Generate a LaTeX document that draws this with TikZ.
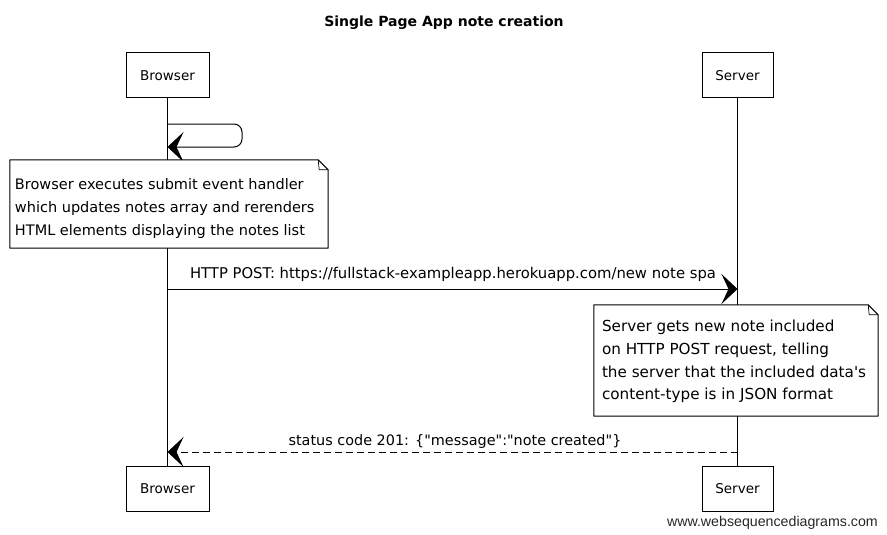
\documentclass[tikz,border=0pt]{standalone}
\usepackage{fontspec}
\setmainfont{DejaVu Sans}
\newfontfamily\wmfont{Liberation Sans}
\usetikzlibrary{arrows.meta,calc}

\begin{document}
\begin{tikzpicture}[x=1pt,y=-1pt,
  every node/.style={font=\fontsize{13.5}{22.6}\selectfont, text=black},
  actor/.style={draw, line width=1pt, fill=white, minimum width=#1,
    minimum height=45pt, inner sep=0pt},
  lifeline/.style={line width=0.8pt},
  note/.style={fill=white, minimum width=#1, inner sep=0pt},
  notetext/.style={align=left, inner sep=0pt, font=\fontsize{14.5}{22.6}\selectfont},
  noteline/.style={line width=1pt, line join=round},
  msg/.style={line width=1pt, -{Stealth[length=16pt,width=30pt,inset=7pt]}},
  reply/.style={msg, dash pattern=on 7pt off 4pt},
  label/.style={inner sep=0pt, anchor=base}]

\useasboundingbox (0,0) rectangle (887,535);

% title
\node[label, font=\bfseries\fontsize{14}{16}\selectfont] (title) at (444,27) {Single Page App note creation};

% participants
\node[actor=83pt] (bTop) at (167.5,75.5) {Browser};
\node[actor=71pt] (sTop) at (737.5,75.5) {Server};
\node[actor=83pt] (bBot) at (167.5,488.5) {Browser};
\node[actor=71pt] (sBot) at (737.5,488.5) {Server};

% lifelines
\draw[lifeline] (bTop) -- (bBot);
\draw[lifeline] (sTop) -- (sBot);

% self message on the browser
\coordinate (self1) at (bTop.south |- 0,124);
\coordinate (self2) at (bTop.south |- 0,147);
\draw[msg, rounded corners=8pt] (self1) -- (242,124) -- (242,147) -- (self2);

% note over the browser
\node[note=318pt, minimum height=88pt] (note1) at (169,204) {};
\node[notetext, anchor=west] (note1text) at ($(note1.west)+(5,4.5)$)
  {Browser executes submit event handler\\
   which updates notes array and rerenders\\
   HTML elements displaying the notes list};
\draw[noteline] (note1.north west) -- ($(note1.north east)+(-10,0)$)
  -- ($(note1.north east)+(0,10)$) -- (note1.south east) -- (note1.south west) -- cycle;
\draw[line width=0.7pt] ($(note1.north east)+(-10,0)$) -- ($(note1.north east)+(-9,10)$)
  -- ($(note1.north east)+(0,10)$);

% request to the server
\coordinate (post1) at (bTop.south |- 0,289);
\coordinate (post2) at (sTop.south |- 0,289);
\draw[msg] (post1) -- (post2);
\node[label, font=\fontsize{14.8}{18}\selectfont] (postlabel) at (453,278)
  {HTTP POST: https://fullstack-exampleapp.herokuapp.com/new note spa};

% note over the server
\node[note=284pt, minimum height=111pt] (note2) at (736,360.5) {};
\node[notetext, anchor=west, font=\fontsize{15.2}{22.7}\selectfont] (note2text)
  at ($(note2.west)+(8,1)$)
  {Server gets new note included\\
   on HTTP POST request, telling\\
   the server that the included data\textquotesingle s\\
   content-type is in JSON format};
\draw[noteline] (note2.north west) -- ($(note2.north east)+(-10,0)$)
  -- ($(note2.north east)+(0,10)$) -- (note2.south east) -- (note2.south west) -- cycle;
\draw[line width=0.7pt] ($(note2.north east)+(-10,0)$) -- ($(note2.north east)+(-9,10)$)
  -- ($(note2.north east)+(0,10)$);

% response back to the browser
\coordinate (resp1) at (sTop.south |- 0,452);
\coordinate (resp2) at (bTop.south |- 0,452);
\draw[reply] (resp1) -- (resp2);
\node[label, font=\fontsize{14.4}{18}\selectfont] (resplabel) at (455,445)
  {status code 201: \{\textquotedbl message\textquotedbl:\textquotedbl note created\textquotedbl\}};

% footer
\node[inner sep=0pt, anchor=base east, font=\wmfont\fontsize{14.2}{16}\selectfont, text=black!85]
  (footer) at (878,526) {www.websequencediagrams.com};
\end{tikzpicture}
\end{document}
